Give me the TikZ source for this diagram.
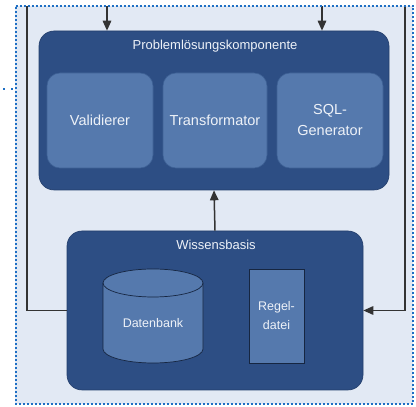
\documentclass[tikz,border=0pt]{standalone}
\usepackage{fontspec}
\setmainfont{Liberation Sans}
\usetikzlibrary{arrows.meta}
\definecolor{bgc}{HTML}{E2E9F4}
\definecolor{darkbox}{HTML}{2D4E84}
\definecolor{darkedge}{HTML}{243F6C}
\definecolor{innerbox}{HTML}{5579AD}
\definecolor{inneredge}{HTML}{3F6296}
\definecolor{dotc}{HTML}{1E6FC4}
\definecolor{txtc}{HTML}{EEF2F8}
\definecolor{linec}{HTML}{333333}
\tikzset{
  outerbox/.style={draw=darkedge, fill=darkbox, rounded corners=15pt, line width=0.6pt},
  compbox/.style={draw=inneredge, fill=innerbox, rounded corners=13pt, line width=0.6pt,
    text=txtc, font=\fontsize{14.5}{21}\selectfont, align=center, inner sep=0pt},
  titletxt/.style={text=txtc, font=\fontsize{13}{15}\selectfont, inner sep=0pt},
  smalltxt/.style={text=txtc, font=\fontsize{12.5}{19}\selectfont, align=center, inner sep=0pt},
  conn/.style={line width=1.5pt, draw=linec},
  arr/.style={conn, -{Triangle[length=10pt,width=8.5pt]}},
  dotline/.style={draw=dotc, line width=2pt, dash pattern=on 2pt off 2pt}
}
\begin{document}
\begin{tikzpicture}[x=1pt,y=1pt]
\useasboundingbox (0,0) rectangle (416,407);
% background
\fill[bgc] (15,3) rectangle (413,401);
% main boxes
\node[outerbox, minimum width=350pt, minimum height=159pt] (plk) at (214,296.5) {};
\node[titletxt] (plkt) at (215,361) {Problemlösungskomponente};
\node[compbox, minimum width=106pt, minimum height=95pt] (val) at (100,286.5) {Validierer};
\node[compbox, minimum width=104pt, minimum height=95pt] (trf) at (215,286.5) {Transformator};
\node[compbox, minimum width=106pt, minimum height=95pt] (sql) at (330,286.5) {SQL-\\Generator};
\node[outerbox, minimum width=296pt, minimum height=159pt] (wb) at (215,96.5) {};
\node[titletxt] (wbt) at (216,162) {Wissensbasis};
% cylinder
\draw[draw=darkedge!60!black, fill=innerbox, line width=0.7pt]
  (103,124) -- (103,58) arc[start angle=180, end angle=360, x radius=50pt, y radius=14pt]
  -- (203,124) arc[start angle=0, end angle=180, x radius=50pt, y radius=14pt] -- cycle;
\draw[draw=darkedge!60!black, line width=0.7pt]
  (103,124) arc[start angle=180, end angle=360, x radius=50pt, y radius=14pt];
\node[smalltxt] (db) at (153,84) {Datenbank};
% rule file
\node[draw=darkedge!60!black, fill=innerbox, line width=0.7pt, minimum width=55pt, minimum height=94pt,
  smalltxt] (rd) at (276.5,91) {Regel-\\datei};
% connectors
\coordinate (t1) at (107,401);
\coordinate (t2) at (322,401);
\coordinate (l1) at (27,401);
\coordinate (l2) at (27,96.5);
\coordinate (r1) at (405,401);
\coordinate (r2) at (405,96.5);
\draw[arr] (t1) -- (t1 |- plk.north);
\draw[arr] (t2) -- (t2 |- plk.north);
\draw[arr] (wb.north) -- (plk.south);
\draw[conn] (l1) -- (l2) -- (wb.west);
\draw[arr] (r1) -- (r2) -- (wb.east);
% dotted frame
\coordinate (d1) at (15.5,401);
\coordinate (d2) at (413,401);
\coordinate (d3) at (413,3);
\coordinate (d4) at (15.5,3);
\coordinate (s1) at (3,318);
\coordinate (s2) at (14,318);
\draw[dotline] (d1) -- (d2) -- (d3) -- (d4) -- cycle;
\draw[dotline, dash pattern=on 2pt off 6pt] (s1) -- (s2);
\end{tikzpicture}
\end{document}
